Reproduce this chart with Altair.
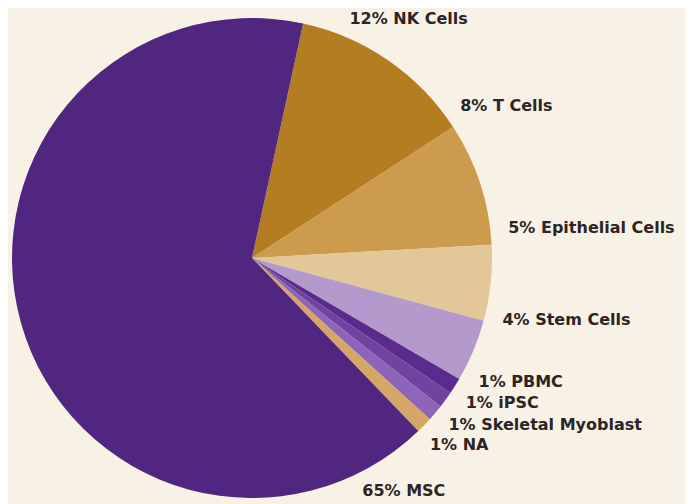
import altair as alt
import pandas as pd
import math

categories = ["NK Cells", "T Cells", "Epithelial Cells", "Stem Cells", "PBMC", "iPSC",
              "Skeletal Myoblast", "NA", "MSC"]
values = [12.4, 8.3, 5.1, 4.2, 1.1, 1.1, 1.1, 1.1, 65.6]
labels = ["12% NK Cells", "8% T Cells", "5% Epithelial Cells", "4% Stem Cells", "1% PBMC",
          "1% iPSC", "1% Skeletal Myoblast", "1% NA", "65% MSC"]
colors = ["#b57d22", "#cc9b4e", "#e3c799", "#b399cc", "#5a2a8c", "#6f44a0",
          "#8d64b7", "#d6a764", "#512680"]
# label anchor angles (degrees clockwise from 12 o'clock)
label_angles = [22.2, 53.8, 83.3, 103.9, 118.6, 124.1, 130.4, 136.4, 154.7]

start = math.radians(12.3)
cx, cy = 244, 250

df = pd.DataFrame({"cat": categories, "value": values, "order": list(range(len(categories)))})
lab = pd.DataFrame({"label": labels, "angle": label_angles})

pie = alt.Chart(df).mark_arc(stroke=None, outerRadius=240).encode(
    x=alt.value(cx), y=alt.value(cy),
    theta=alt.Theta("value:Q", stack=True, scale=alt.Scale(range=[start, start + 2 * math.pi])),
    color=alt.Color("cat:N", scale=alt.Scale(domain=categories, range=colors), legend=None),
    order=alt.Order("order:Q"),
)

text = alt.Chart(lab).mark_text(radius=258, align="left", baseline="middle", fontSize=16,
                                  fontWeight="bold", font="DejaVu Sans", color="#2b2525").encode(
    x=alt.value(cx), y=alt.value(cy),
    theta=alt.Theta("angle:Q", scale=alt.Scale(domain=[0, 360], range=[0, 2 * math.pi])),
    text="label:N",
)

chart = alt.layer(pie, text).resolve_scale(theta="independent").properties(
    width=677, height=496, padding=0, autosize="none", background="#f8f1e6"
).configure_view(stroke=None)

chart.save("out.html", embed_options={"renderer": "svg", "actions": False})
